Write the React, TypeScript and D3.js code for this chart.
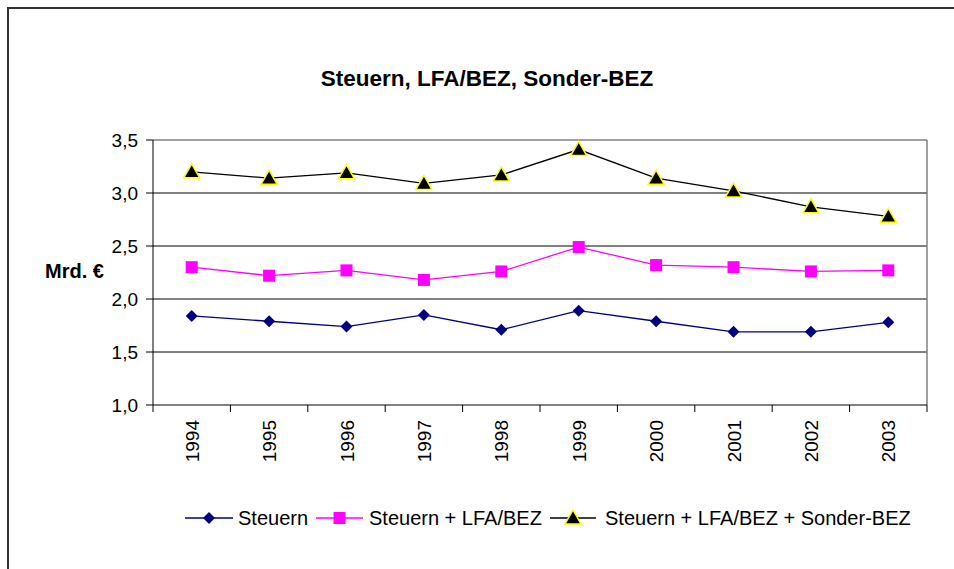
import React from 'react';
import * as d3 from 'd3';

const years = ['1994', '1995', '1996', '1997', '1998', '1999', '2000', '2001', '2002', '2003'];
const steuern = [1.84, 1.79, 1.74, 1.85, 1.71, 1.89, 1.79, 1.69, 1.69, 1.78];
const steuernLfa = [2.30, 2.22, 2.27, 2.18, 2.26, 2.49, 2.32, 2.30, 2.26, 2.27];
const steuernLfaSonder = [3.20, 3.14, 3.19, 3.09, 3.17, 3.41, 3.14, 3.02, 2.87, 2.78];
const yTicks = [1.0, 1.5, 2.0, 2.5, 3.0, 3.5];
const seriesNames = ['Steuern', 'Steuern + LFA/BEZ', 'Steuern + LFA/BEZ + Sonder-BEZ'];

const W = 954;
const H = 569;
const plot = { left: 153, right: 927, top: 140, bottom: 405 };
const font = 'Arial, "Liberation Sans", sans-serif';

const x = d3.scaleBand<string>().domain(years).range([plot.left, plot.right]);
const y = d3.scaleLinear().domain([1.0, 3.5]).range([plot.bottom, plot.top]);
const cx = (yr: string) => (x(yr) as number) + x.bandwidth() / 2;

const fmt = (v: number) => d3.format('.1f')(v).replace('.', ',');

const lineGen = d3
  .line<number>()
  .x((_, i) => cx(years[i]))
  .y((d) => y(d));

const diamond = (px: number, py: number, r = 6) =>
  `M${px},${py - r}L${px + r},${py}L${px},${py + r}L${px - r},${py}Z`;
const triangle = (px: number, py: number, r = 8) =>
  `M${px},${py - r}L${px + r},${py + r * 0.75}L${px - r},${py + r * 0.75}Z`;

function Marker({ kind, px, py }: { kind: number; px: number; py: number }) {
  if (kind === 0) return <path d={diamond(px, py)} fill="#000080" />;
  if (kind === 1) return <rect x={px - 6} y={py - 6} width={12} height={12} fill="#FF00FF" />;
  return <path d={triangle(px, py)} fill="#000" stroke="#FFFF00" strokeWidth={1.5} />;
}

const colors = ['#000080', '#FF00FF', '#000000'];
const data = [steuern, steuernLfa, steuernLfaSonder];

export default function App() {
  const legendItems = [
    { line: [185, 233], text: 238 },
    { line: [316, 363], text: 369 },
    { line: [550, 596], text: 605 },
  ];
  const ly = 518;
  return (
    <svg
      width={W}
      height={H}
      style={{ position: 'absolute', left: 0, top: 0, background: '#fff' }}
      fontFamily={font}
    >
      <rect x={0} y={0} width={W} height={H} fill="#fff" />
      {/* chart frame, runs off the right and bottom edge */}
      <rect x={8} y={8} width={W + 20} height={H + 20} fill="none" stroke="#333" strokeWidth={2} />

      <text x={487} y={86} textAnchor="middle" fontWeight="bold" fontSize={22.5}>
        Steuern, LFA/BEZ, Sonder-BEZ
      </text>

      {/* grid + plot border */}
      {yTicks.slice(1, -1).map((t) => (
        <line key={t} x1={plot.left} x2={plot.right} y1={y(t)} y2={y(t)} stroke="#000" strokeWidth={1} />
      ))}
      <line x1={plot.left} x2={plot.right} y1={plot.top} y2={plot.top} stroke="#808080" strokeWidth={1.5} />
      <line x1={plot.right} x2={plot.right} y1={plot.top} y2={plot.bottom} stroke="#808080" strokeWidth={1.5} />

      {/* y axis */}
      <line x1={plot.left} x2={plot.left} y1={plot.top} y2={plot.bottom + 7} stroke="#000" />
      {yTicks.map((t) => (
        <g key={t}>
          <line x1={plot.left - 7} x2={plot.left} y1={y(t)} y2={y(t)} stroke="#000" />
          <text x={138} y={y(t) + 7} textAnchor="end" fontSize={19}>
            {fmt(t)}
          </text>
        </g>
      ))}
      <text x={45} y={278} fontWeight="bold" fontSize={20}>
        Mrd. €
      </text>

      {/* x axis */}
      <line x1={plot.left} x2={plot.right} y1={plot.bottom} y2={plot.bottom} stroke="#000" />
      {years.map((yr) => (
        <line
          key={'t' + yr}
          x1={(x(yr) as number) + x.bandwidth()}
          x2={(x(yr) as number) + x.bandwidth()}
          y1={plot.bottom}
          y2={plot.bottom + 7}
          stroke="#000"
        />
      ))}
      {years.map((yr) => (
        <text
          key={yr}
          transform={`translate(${cx(yr) + 7},420) rotate(-90)`}
          textAnchor="end"
          fontSize={19}
        >
          {yr}
        </text>
      ))}

      {/* series */}
      {data.map((vals, s) => (
        <g key={s}>
          <path d={lineGen(vals) || ''} fill="none" stroke={colors[s]} strokeWidth={1.3} />
          {vals.map((v, i) => (
            <Marker key={i} kind={s} px={cx(years[i])} py={y(v)} />
          ))}
        </g>
      ))}

      {/* legend */}
      {legendItems.map((it, s) => (
        <g key={s}>
          <line x1={it.line[0]} x2={it.line[1]} y1={ly} y2={ly} stroke={colors[s]} strokeWidth={1.3} />
          <Marker kind={s} px={(it.line[0] + it.line[1]) / 2} py={ly} />
          <text x={it.text} y={525} fontSize={20}>
            {seriesNames[s]}
          </text>
        </g>
      ))}
    </svg>
  );
}
